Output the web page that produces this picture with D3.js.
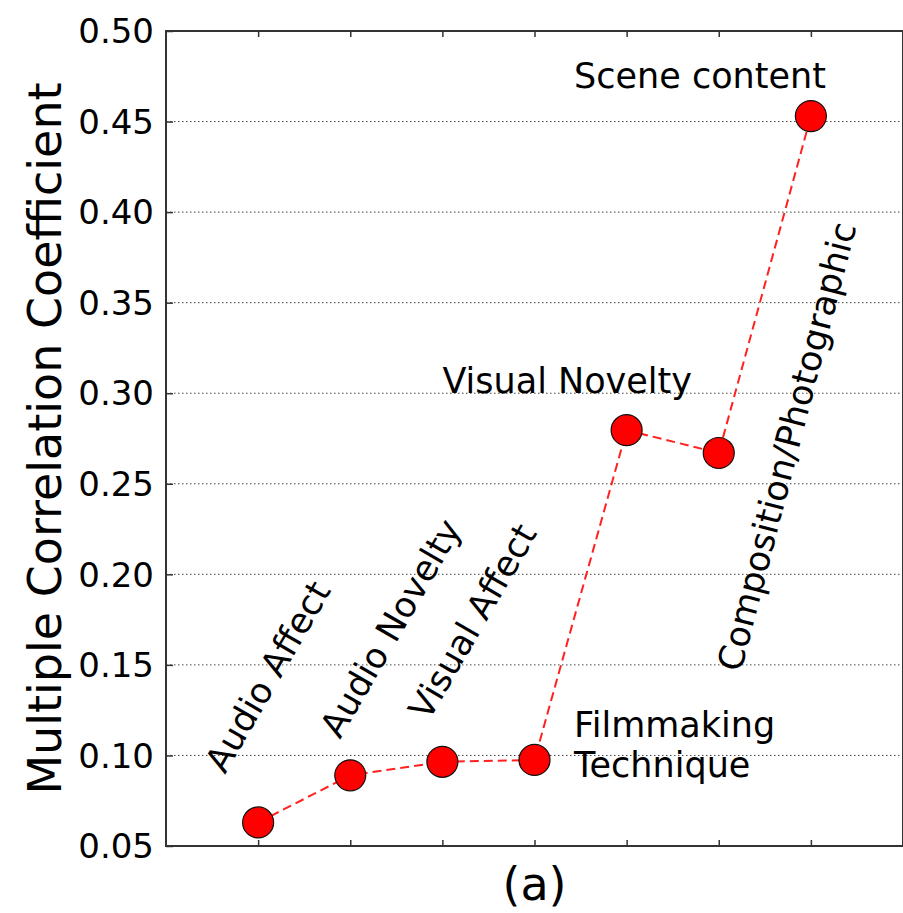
<!DOCTYPE html>
<html>
<head>
<meta charset="utf-8">
<script src="https://cdn.jsdelivr.net/npm/d3@7"></script>
<style>
  body { margin: 0; background: #fff; }
  text { font-family: "DejaVu Sans", sans-serif; fill: #000; }
</style>
</head>
<body>
<div id="chart"></div>
<script>
// data
const features = ['Audio Affect', 'Audio Novelty', 'Visual Affect', 'Filmmaking Technique',
  'Visual Novelty', 'Composition/Photographic', 'Scene content'];
const correlation = [0.063, 0.089, 0.0965, 0.0975, 0.2796, 0.267, 0.453];
const yTicks = [0.05, 0.10, 0.15, 0.20, 0.25, 0.30, 0.35, 0.40, 0.45, 0.50];

// annotation text placed in data coordinates (like ax.text)
const labelLines = [['Audio Affect'], ['Audio Novelty'], ['Visual Affect'], ['Filmmaking', 'Technique'],
  ['Visual Novelty'], ['Composition/Photographic'], ['Scene content']];
const labelX = [0.64, 1.89, 2.85, 4.43, 3.0, 6.24, 4.43];
const labelY = [0.0892, 0.1085, 0.1184, 0.110, 0.300, 0.1455, 0.4683];
const labelRotation = [-60, -60, -60, 0, 0, -75.5, 0];

/**
 * Draw the chart
 */
function createChart() {
  const SVG_WIDTH = 903;
  const SVG_HEIGHT = 913;
  const margin = { left: 166, top: 31, right: 903, bottom: 846 };

  const svg = d3.select('#chart').append('svg')
    .attr('width', SVG_WIDTH)
    .attr('height', SVG_HEIGHT);

  const x = d3.scaleLinear()
    .domain([0, features.length + 1])
    .range([margin.left, margin.right]);
  const y = d3.scaleLinear()
    .domain([0.05, 0.50])
    .range([margin.bottom, margin.top]);

  // grid
  svg.append('g')
    .selectAll('line')
    .data(yTicks.slice(1, -1))
    .join('line')
      .attr('x1', margin.left)
      .attr('x2', margin.right)
      .attr('y1', d => y(d))
      .attr('y2', d => y(d))
      .attr('stroke', '#444')
      .attr('stroke-width', 1)
      .attr('stroke-dasharray', '1.5,2.5');

  // axes with inward ticks
  const xIdx = d3.range(1, features.length + 1);
  const axisBottom = d3.axisTop(x).tickValues(xIdx).tickSize(6).tickFormat('');
  const axisTopA = d3.axisBottom(x).tickValues(xIdx).tickSize(6).tickFormat('');
  const axisLeft = d3.axisRight(y).tickValues(yTicks).tickSize(7).tickFormat('');

  svg.append('g').attr('transform', `translate(0,${margin.bottom})`).call(axisBottom);
  svg.append('g').attr('transform', `translate(0,${margin.top})`).call(axisTopA);
  svg.append('g').attr('transform', `translate(${margin.left},0)`).call(axisLeft);
  svg.selectAll('.domain').remove();
  svg.selectAll('.tick line').attr('stroke', '#333').attr('stroke-width', 1.5);

  // tick labels
  svg.append('g')
    .selectAll('text')
    .data(yTicks)
    .join('text')
      .attr('x', margin.left - 12)
      .attr('y', d => y(d))
      .attr('dy', '0.36em')
      .attr('text-anchor', 'end')
      .style('font-size', '34px')
      .text(d => d.toFixed(2));

  // frame
  svg.append('rect')
    .attr('x', margin.left)
    .attr('y', margin.top)
    .attr('width', margin.right - margin.left)
    .attr('height', margin.bottom - margin.top)
    .attr('fill', 'none')
    .attr('stroke', '#333')
    .attr('stroke-width', 2);

  // line and markers
  const line = d3.line()
    .x((_, i) => x(i + 1))
    .y(d => y(d));

  svg.append('path')
    .datum(correlation)
    .attr('fill', 'none')
    .attr('stroke', '#ff2020')
    .attr('stroke-width', 2)
    .attr('stroke-dasharray', '9,5')
    .attr('d', line);

  svg.append('g')
    .selectAll('circle')
    .data(correlation)
    .join('circle')
      .attr('cx', (_, i) => x(i + 1))
      .attr('cy', d => y(d))
      .attr('r', 15.5)
      .attr('fill', '#ff0000')
      .attr('stroke', '#111')
      .attr('stroke-width', 1.2);

  // annotations
  const ann = svg.append('g')
    .selectAll('text')
    .data(labelLines)
    .join('text')
      .attr('transform', (_, i) => `translate(${x(labelX[i])},${y(labelY[i])}) rotate(${labelRotation[i]})`)
      .style('font-size', '35px');
  ann.selectAll('tspan')
    .data(d => d)
    .join('tspan')
      .attr('x', 0)
      .attr('y', (_, j) => j * 40)
      .text(d => d);

  // axis titles
  svg.append('text')
    .attr('transform', `translate(61,${(margin.top + margin.bottom) / 2}) rotate(-90)`)
    .attr('text-anchor', 'middle')
    .style('font-size', '46px')
    .text('Multiple Correlation Coefficient');

  svg.append('text')
    .attr('x', (margin.left + margin.right) / 2)
    .attr('y', 900)
    .attr('text-anchor', 'middle')
    .style('font-size', '46px')
    .text('(a)');
}

(function main() {
  createChart();
})();
</script>
</body>
</html>
